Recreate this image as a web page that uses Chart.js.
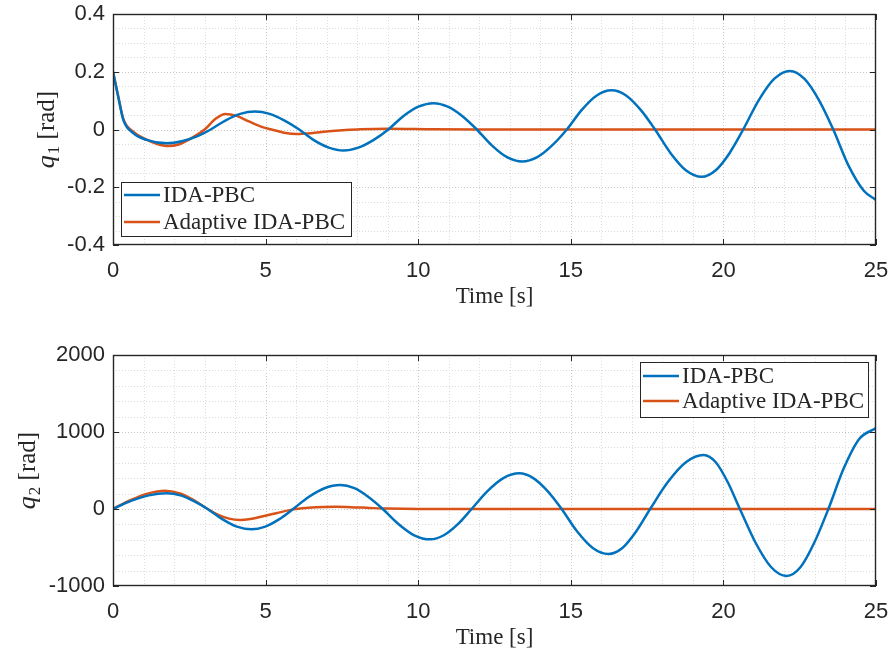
<!DOCTYPE html>
<html><head><meta charset="utf-8">
<script src="https://cdn.jsdelivr.net/npm/chart.js@4.4.0/dist/chart.umd.min.js"></script>
<style>
html,body{margin:0;padding:0;background:#fff;}
#wrap{position:relative;width:892px;height:656px;overflow:hidden;}
canvas{position:absolute;left:0;}
</style></head><body>
<div id="wrap">
<canvas id="c1" width="892" height="328" style="top:0"></canvas>
<canvas id="c2" width="892" height="328" style="top:328px"></canvas>
</div>
<script>
// ---- data ----
const seriesLabels = ['IDA-PBC', 'Adaptive IDA-PBC'];
const xTickValues = [0, 5, 10, 15, 20, 25];
const q1TickValues = [-0.4, -0.2, 0, 0.2, 0.4];
const q2TickValues = [-1000, 0, 1000, 2000];

const q1IdaTime = [0,0.17,0.34,0.67,1.1,1.76,2.25,2.75,3.2,3.68,4.17,4.65,5.13,5.62,6.1,6.58,7.07,7.55,8.04,8.53,9.02,9.51,10.01,10.5,10.97,11.45,11.92,12.42,12.91,13.41,13.9,14.38,14.87,15.36,15.85,16.34,16.81,17.29,17.76,18.27,18.78,19.29,19.74,20.2,20.65,21.16,21.67,22.18,22.65,23.13,23.6,24.1,24.6,25];
const q1IdaValue = [0.2,0.114,0.033,-0.013,-0.036,-0.048,-0.041,-0.024,0,0.031,0.054,0.062,0.054,0.031,0,-0.037,-0.063,-0.073,-0.063,-0.037,0,0.046,0.079,0.091,0.079,0.046,0,-0.056,-0.096,-0.111,-0.096,-0.056,0,0.068,0.118,0.136,0.118,0.068,0,-0.082,-0.142,-0.164,-0.142,-0.082,0,0.102,0.176,0.203,0.176,0.102,0,-0.125,-0.212,-0.244];

const q1AdpTime = [0,0.17,0.34,0.67,1.1,1.45,1.81,2.15,2.5,3.0,3.35,3.68,4.05,4.45,4.85,5.2,5.6,6.02,6.5,7.0,7.5,8.1,9.0,10.5,12,25];
const q1AdpValue = [0.2,0.115,0.036,-0.008,-0.035,-0.05,-0.057,-0.052,-0.034,0,0.036,0.054,0.047,0.028,0.01,0,-0.011,-0.016,-0.013,-0.007,-0.003,0.001,0.003,0.001,0,0];

const q2IdaTime = [0,0.59,1.17,1.76,2.21,2.65,3.1,3.58,4.06,4.54,4.99,5.45,5.9,6.41,6.93,7.44,7.91,8.37,8.84,9.36,9.87,10.39,10.84,11.3,11.75,12.27,12.79,13.31,13.77,14.24,14.7,15.21,15.72,16.23,16.69,17.14,17.6,18.18,18.77,19.35,19.75,20.14,20.54,21.05,21.56,22.07,22.53,22.98,23.44,23.94,24.45,25];
const q2IdaValue = [0,105,177,204,177,102,0,-132,-229,-264,-229,-132,0,156,270,312,270,156,0,-197,-341,-394,-341,-197,0,232,401,463,401,232,0,-292,-506,-584,-506,-292,0,350,607,701,607,350,0,-435,-753,-870,-753,-435,0,525,909,1050];

const q2AdpTime = [0,0.57,1.13,1.7,2.17,2.63,3.1,3.45,3.8,4.16,4.5,4.85,5.35,5.9,6.4,6.9,7.3,7.8,8.4,9.0,10.0,25];
const q2AdpValue = [0,115,200,238,205,120,0,-75,-125,-143,-130,-100,-55,-5,15,26,28,24,14,5,0,0];

// ---- helpers ----
const BLUE = '#0072BD', ORANGE = '#D95319', INK = '#262626';
const SANS = '"Liberation Sans", Arial, sans-serif';
const SERIF = '"Liberation Serif", "Times New Roman", serif';
function pts(t, v) { return t.map((x, i) => ({x: x, y: v[i]})); }
function fmt(v) { return String(Number(v.toFixed(3))); }

const matlabAxes = {
  id: 'matlabAxes',
  beforeDatasetsDraw(chart, args, o) {
    const {ctx, chartArea: a, scales: {x, y}} = chart;
    ctx.save();
    ctx.beginPath(); ctx.rect(a.left, a.top, a.right - a.left, a.bottom - a.top); ctx.clip();
    ctx.lineWidth = 1;
    ctx.setLineDash([1, 2]);
    const eps = 1e-9;
    for (let v = x.min + o.xMinor; v < x.max - eps; v += o.xMinor) {
      const major = xTickValues.some(t => Math.abs(t - v) < 1e-6);
      ctx.strokeStyle = major ? '#c8c8c8' : '#dcdcdc';
      const p = Math.round(x.getPixelForValue(v)) + 0.5;
      ctx.beginPath(); ctx.moveTo(p, a.top); ctx.lineTo(p, a.bottom); ctx.stroke();
    }
    const yT = o.yTicks;
    for (let v = y.min + o.yMinor; v < y.max - o.yMinor / 1000; v += o.yMinor) {
      const major = yT.some(t => Math.abs(t - v) < o.yMinor / 1000);
      ctx.strokeStyle = major ? '#c8c8c8' : '#dcdcdc';
      const p = Math.round(y.getPixelForValue(v)) + 0.5;
      ctx.beginPath(); ctx.moveTo(a.left, p); ctx.lineTo(a.right, p); ctx.stroke();
    }
    ctx.restore();
  },
  afterDatasetsDraw(chart, args, o) {
    const {ctx, chartArea: a, scales: {x, y}} = chart;
    ctx.save();
    // ticks inward
    ctx.strokeStyle = INK; ctx.lineWidth = 1; ctx.setLineDash([]);
    const tl = 6;
    xTickValues.forEach(v => {
      const p = Math.round(x.getPixelForValue(v)) + 0.5;
      ctx.beginPath(); ctx.moveTo(p, a.bottom); ctx.lineTo(p, a.bottom - tl);
      ctx.moveTo(p, a.top); ctx.lineTo(p, a.top + tl); ctx.stroke();
    });
    o.yTicks.forEach(v => {
      const p = Math.round(y.getPixelForValue(v)) + 0.5;
      ctx.beginPath(); ctx.moveTo(a.left, p); ctx.lineTo(a.left + tl, p);
      ctx.moveTo(a.right, p); ctx.lineTo(a.right - tl, p); ctx.stroke();
    });
    // frame
    ctx.lineWidth = 1.4;
    ctx.strokeRect(a.left + 0.5, a.top + 0.5, a.right - a.left - 1, a.bottom - a.top - 1);
    // legend
    const L = o.legend;
    ctx.fillStyle = '#ffffff';
    ctx.fillRect(L.x, L.y, L.w, L.h);
    ctx.lineWidth = 1; ctx.strokeStyle = INK;
    ctx.strokeRect(L.x + 0.5, L.y + 0.5, L.w, L.h);
    chart.data.datasets.forEach((ds, i) => {
      const ry = L.y + L.rows[i];
      ctx.strokeStyle = ds.borderColor; ctx.lineWidth = 2.5;
      ctx.beginPath(); ctx.moveTo(L.x + 3, ry); ctx.lineTo(L.x + 39, ry); ctx.stroke();
      ctx.fillStyle = INK; ctx.font = '23px ' + SERIF;
      ctx.textAlign = 'left'; ctx.textBaseline = 'middle';
      ctx.fillText(ds.label, L.x + 42, ry + 1);
    });
    // x title
    ctx.fillStyle = INK; ctx.font = '23px ' + SERIF;
    ctx.textAlign = 'center'; ctx.textBaseline = 'middle';
    ctx.fillText('Time [s]', (a.left + a.right) / 2, a.bottom + 52);
    // y title  q_n [rad]
    ctx.translate(o.yLabelX, (a.top + a.bottom) / 2);
    ctx.rotate(-Math.PI / 2);
    ctx.textBaseline = 'alphabetic'; ctx.textAlign = 'left';
    const f1 = 'italic 26px ' + SERIF, f2 = '17px ' + SERIF, f3 = '25px ' + SERIF;
    ctx.font = f1; const w1 = ctx.measureText('q').width;
    ctx.font = f2; const w2 = ctx.measureText(o.sub).width;
    ctx.font = f3; const w3 = ctx.measureText(' [rad]').width;
    let sx = -(w1 + w2 + w3 + 1) / 2;
    const base = 7;
    ctx.font = f1; ctx.fillText('q', sx, base); sx += w1 + 1;
    ctx.font = f2; ctx.fillText(o.sub, sx, base + 5); sx += w2;
    ctx.font = f3; ctx.fillText(' [rad]', sx, base);
    ctx.restore();
  }
};

function makeChart(id, idaT, idaV, adpT, adpV, yTicks, yMin, yMax, yMinor, pad, axOpts) {
  return new Chart(document.getElementById(id), {
    type: 'line',
    data: {
      datasets: [
        {label: seriesLabels[0], data: pts(idaT, idaV), borderColor: BLUE, borderWidth: 2.5,
         pointRadius: 0, cubicInterpolationMode: 'monotone', fill: false},
        {label: seriesLabels[1], data: pts(adpT, adpV), borderColor: ORANGE, borderWidth: 2.5,
         pointRadius: 0, cubicInterpolationMode: 'monotone', fill: false}
      ]
    },
    options: {
      responsive: false, animation: false, events: [],
      layout: {padding: pad},
      plugins: {legend: {display: false}, tooltip: {enabled: false},
        matlabAxes: Object.assign({yTicks: yTicks, yMinor: yMinor, xMinor: 1}, axOpts)},
      scales: {
        x: {type: 'linear', min: 0, max: 25,
            afterBuildTicks: s => { s.ticks = xTickValues.map(v => ({value: v})); },
            afterFit: s => { s.height = 70; s.paddingLeft = 0; s.paddingRight = 0; },
            grid: {display: false, drawTicks: false}, border: {display: false},
            ticks: {color: INK, font: {family: SANS, size: 22}, padding: 13, maxRotation: 0,
                    autoSkip: false, callback: v => fmt(v)}},
        y: {type: 'linear', min: yMin, max: yMax,
            afterBuildTicks: s => { s.ticks = yTicks.map(v => ({value: v})); },
            afterFit: s => { s.width = 113; s.paddingTop = 0; s.paddingBottom = 0; },
            grid: {display: false, drawTicks: false}, border: {display: false},
            ticks: {color: INK, font: {family: SANS, size: 22}, padding: 8, autoSkip: false,
                    callback: v => fmt(v)}}
      }
    },
    plugins: [matlabAxes]
  });
}

makeChart('c1', q1IdaTime, q1IdaValue, q1AdpTime, q1AdpValue, q1TickValues, -0.4, 0.4, 0.05,
  {left: 0, right: 16, top: 14, bottom: 13},
  {sub: '1', yLabelX: 47, legend: {x: 121, y: 182, w: 230, h: 54, rows: [13, 40]}});
makeChart('c2', q2IdaTime, q2IdaValue, q2AdpTime, q2AdpValue, q2TickValues, -1000, 2000, 200,
  {left: 0, right: 16, top: 27, bottom: 0},
  {sub: '2', yLabelX: 28, legend: {x: 640, y: 34, w: 228, h: 55, rows: [14, 39]}});
</script>
</body></html>
